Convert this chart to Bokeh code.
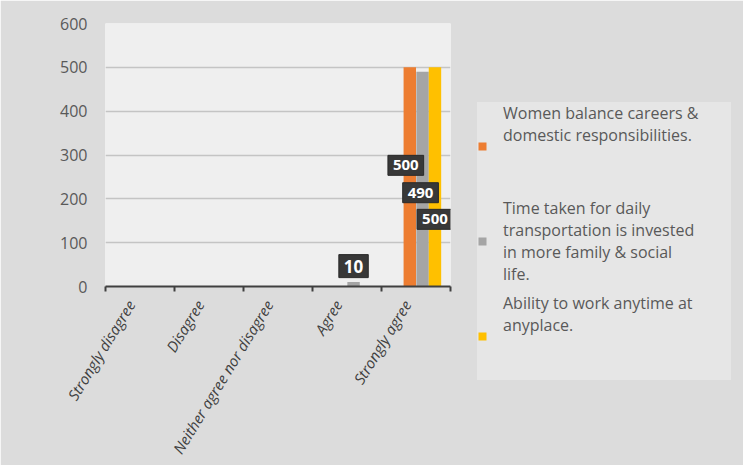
from bokeh.plotting import figure
from bokeh.models import (ColumnDataSource, FixedTicker, Legend, LegendItem,
                          Range1d)
from bokeh.core.properties import value
from bokeh.embed import file_html
from bokeh.resources import INLINE

# ---------------- data ----------------
categories = ["Strongly disagree", "Disagree", "Neither agree nor disagree",
              "Agree", "Strongly agree"]
series_names = [
    "Women balance careers &\ndomestic responsibilities.",
    "Time taken for daily\ntransportation is invested\nin more family & social\nlife.",
    "Ability to work anytime at\nanyplace.",
]
women_balance = [0, 0, 0, 0, 500]
transport_time = [0, 0, 0, 10, 490]
work_anytime = [0, 0, 0, 0, 500]
y_ticks = [0, 100, 200, 300, 400, 500, 600]

series_values = [women_balance, transport_time, work_anytime]
colors = ["#ED7D31", "#A5A5A5", "#FFC000"]
offsets = [0.41, 0.595, 0.775]   # bar position inside a category slot
bar_w = 0.18
label_anchor = 0.37              # where the slanted category text ends

FONT = "Open Sans"

p = figure(frame_width=345, frame_height=263,
           min_border_left=105, min_border_top=23,
           min_border_right=277, min_border_bottom=169,
           x_range=Range1d(0, len(categories)), y_range=Range1d(0, 600),
           output_backend="svg", toolbar_location=None,
           background_fill_color="#efefef", border_fill_color="#dcdcdc",
           outline_line_color=None)

renderers = []
for vals, col, off in zip(series_values, colors, offsets):
    src = ColumnDataSource(dict(x=[i + off for i in range(len(categories))],
                                top=vals))
    r = p.vbar(x="x", top="top", width=bar_w, source=src,
               fill_color=col, line_color=None)
    renderers.append(r)

# ---------------- axes ----------------
xa = p.xaxis[0]
xa.ticker = FixedTicker(ticks=[i + label_anchor for i in range(len(categories))],
                        minor_ticks=list(range(len(categories) + 1)))
xa.major_label_overrides = {i + label_anchor: c for i, c in enumerate(categories)}
xa.major_label_orientation = 1.02
xa.major_tick_out = 0
xa.major_tick_in = 0
xa.minor_tick_out = 5
xa.minor_tick_in = 0
xa.minor_tick_line_color = "#404040"
xa.minor_tick_line_width = 2
xa.axis_line_color = "#404040"
xa.axis_line_width = 2
xa.major_label_text_font = FONT
xa.major_label_text_font_style = "italic"
xa.major_label_text_font_size = "15px"
xa.major_label_text_color = "#404040"
xa.major_label_standoff = 10

ya = p.yaxis[0]
ya.ticker = FixedTicker(ticks=y_ticks)
ya.axis_line_color = None
ya.major_tick_line_color = None
ya.minor_tick_line_color = None
ya.major_label_text_font = FONT
ya.major_label_text_font_size = "16px"
ya.major_label_text_color = "#595959"
ya.major_label_standoff = 12

p.xgrid.grid_line_color = None
p.ygrid.ticker = FixedTicker(ticks=y_ticks[1:])
p.ygrid.grid_line_color = "#c4c4c4"
p.ygrid.grid_line_width = 1.5

# ---------------- data labels ----------------
lab_x, lab_y, lab_t, lab_dx, lab_dy, lab_fs = [], [], [], [], [], []
label_shift = {(0, 4): (-4, 98), (1, 4): (-2, 121), (2, 4): (0, 152),
               (1, 3): (0, -16)}
for (s, c), (dx, dy) in label_shift.items():
    v = series_values[s][c]
    lab_x.append(c + offsets[s])
    lab_y.append(v)
    lab_t.append(str(v))
    lab_dx.append(dx)
    lab_dy.append(dy)
    lab_fs.append("17px" if v < 100 else "15px")

lsrc = ColumnDataSource(dict(x=lab_x, y=lab_y, t=lab_t, dx=lab_dx, dy=lab_dy,
                             fs=lab_fs))
p.text(x="x", y="y", text="t", x_offset="dx", y_offset="dy", source=lsrc,
       text_align="center", text_baseline="middle",
       text_color="white", text_font=value(FONT), text_font_style="bold",
       text_font_size="fs",
       background_fill_color="#383838", background_fill_alpha=1.0,
       border_line_color="#2a2a2a", padding=5)

# ---------------- legend ----------------
# every entry gets four text rows so that the text starts at the top of its slot
max_rows = max(n.count("\n") + 1 for n in series_names)
legend_labels = [n + "\n " * (max_rows - (n.count("\n") + 1)) for n in series_names]
legend = Legend(items=[LegendItem(label=n, renderers=[r])
                       for n, r in zip(legend_labels, renderers)],
                location=(27, -94),
                background_fill_color="#e6e6e6", background_fill_alpha=1.0,
                border_line_color=None,
                label_text_font=FONT, label_text_font_size="16px",
                label_text_color="#595959",
                glyph_width=10, glyph_height=10, label_standoff=16,
                label_height=60, label_width=228, spacing=7, padding=6,
                margin=0)
p.add_layout(legend, "right")

open("out.html", "w").write(file_html(p, INLINE))
